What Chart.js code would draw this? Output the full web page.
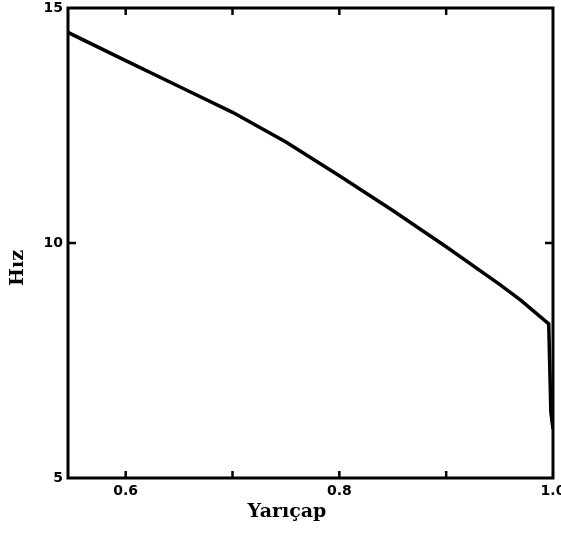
<!DOCTYPE html>
<html>
<head>
<meta charset="utf-8">
<script src="https://cdn.jsdelivr.net/npm/chart.js@4/dist/chart.umd.min.js"></script>
<style>
  html, body { margin: 0; padding: 0; background: #fff; }
  #wrap { width: 561px; height: 546px; }
</style>
</head>
<body>
<div id="wrap"><canvas id="grafico"></canvas></div>
<script>
// Yarıçap (x) ve Hız (y) değerleri
const yaricap = [0.546, 0.6, 0.65, 0.7, 0.75, 0.8, 0.85, 0.9, 0.95, 0.97, 0.996, 0.998, 1.0];
const hiz = [14.48, 13.88, 13.33, 12.78, 12.15, 11.43, 10.69, 9.92, 9.12, 8.78, 8.28, 6.4, 6.05];

const xTicks = [0.6, 0.7, 0.8, 0.9, 1.0];
const xTickLabels = ['0.6', '', '0.8', '', '1.0'];
const yTicks = [5, 10, 15];
const yTickLabels = ['5', '10', '15'];
const xBaslik = 'Yarıçap';
const yBaslik = 'Hız';

// Çerçeve, içe dönük tikler ve eksen başlıkları
const cerceve = {
    id: 'cerceve',
    afterDraw(chart) {
        const { ctx, chartArea: a, scales } = chart;
        ctx.save();
        ctx.strokeStyle = '#000';
        ctx.lineWidth = 3;
        ctx.strokeRect(a.left, a.top, a.right - a.left, a.bottom - a.top);

        ctx.lineWidth = 2.5;
        ctx.beginPath();
        xTicks.slice(0, 4).forEach(v => {
            const px = scales.x.getPixelForValue(v);
            ctx.moveTo(px, a.bottom);
            ctx.lineTo(px, a.bottom - 7);
            ctx.moveTo(px, a.top);
            ctx.lineTo(px, a.top + 7);
        });
        const py = scales.y.getPixelForValue(10);
        ctx.moveTo(a.left, py);
        ctx.lineTo(a.left + 8, py);
        ctx.moveTo(a.right, py);
        ctx.lineTo(a.right - 8, py);
        ctx.stroke();

        ctx.fillStyle = '#000';
        ctx.font = 'bold 19px "DejaVu Serif"';
        ctx.textAlign = 'center';
        ctx.textBaseline = 'middle';
        ctx.fillText(xBaslik, a.left + 219, 512);
        ctx.translate(18, 268);
        ctx.rotate(-Math.PI / 2);
        ctx.fillText(yBaslik, 0, 0);
        ctx.restore();
    }
};

new Chart(document.getElementById('grafico'), {
    type: 'scatter',
    data: {
        datasets: [{
            data: yaricap.map((x, i) => ({ x: x, y: hiz[i] })),
            showLine: true,
            borderColor: '#000',
            borderWidth: 3.5,
            pointRadius: 0,
            tension: 0
        }]
    },
    options: {
        responsive: true,
        maintainAspectRatio: false,
        animation: false,
        layout: { padding: { top: 8, right: 8, left: 0, bottom: 0 } },
        plugins: { legend: { display: false }, tooltip: { enabled: false } },
        scales: {
            x: {
                type: 'linear',
                min: 0.546,
                max: 1.0,
                afterBuildTicks: s => { s.ticks = xTicks.map(v => ({ value: v })); },
                afterFit: s => { s.height = 68; s.paddingRight = 0; s.paddingLeft = 0; },
                grid: { display: false, drawTicks: false },
                border: { display: false },
                ticks: {
                    color: '#000',
                    padding: 5,
                    maxRotation: 0,
                    autoSkip: false,
                    font: { family: 'DejaVu Sans', size: 14, weight: 'bold' },
                    callback: (v, i) => xTickLabels[i]
                }
            },
            y: {
                min: 5,
                max: 15,
                afterBuildTicks: s => { s.ticks = yTicks.map(v => ({ value: v })); },
                afterFit: s => { s.width = 68; s.paddingTop = 0; s.paddingBottom = 0; },
                grid: { display: false, drawTicks: false },
                border: { display: false },
                ticks: {
                    color: '#000',
                    padding: 5,
                    font: { family: 'DejaVu Sans', size: 14, weight: 'bold' },
                    callback: (v, i) => yTickLabels[i]
                }
            }
        }
    },
    plugins: [cerceve]
});
</script>
</body>
</html>
